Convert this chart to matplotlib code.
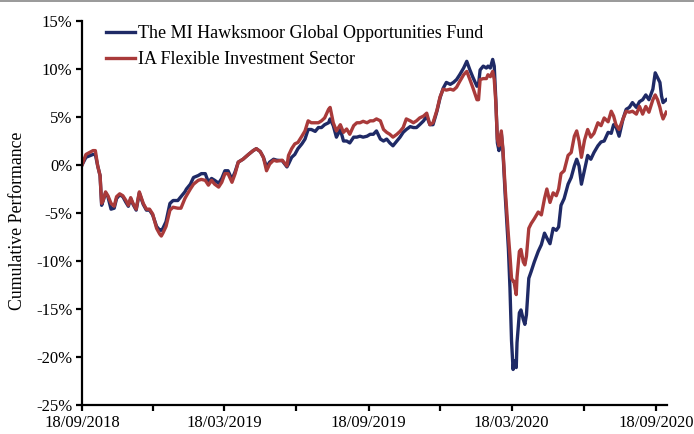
import matplotlib
matplotlib.use("Agg")
import matplotlib.pyplot as plt
import pandas as pd
from matplotlib.lines import Line2D
from matplotlib.ticker import FixedLocator, FuncFormatter

# ---- data (days since 18/09/2018, cumulative performance in %) ----
days = [0, 5, 14, 17, 20, 23, 25, 27, 30, 33,
        37, 41, 44, 48, 52, 56, 59, 62, 65, 69,
        73, 78, 82, 86, 90, 95, 99, 101, 103, 107,
        112, 116, 122, 126, 131, 133, 138, 142, 148, 152,
        157, 161, 165, 169, 174, 178, 182, 186, 191, 195,
        199, 205, 212, 218, 222, 227, 231, 235, 239, 244,
        248, 255, 261, 263, 267, 271, 275, 280, 284, 288,
        292, 297, 301, 305, 309, 314, 316, 320, 324, 329,
        333, 337, 341, 346, 350, 354, 358, 363, 367, 371,
        375, 380, 384, 388, 392, 396, 401, 405, 409, 413,
        418, 422, 426, 430, 435, 439, 443, 447, 452, 456,
        460, 464, 469, 473, 477, 481, 486, 490, 494, 498,
        503, 505, 507, 511, 515, 517, 520, 523, 525, 527,
        529, 531, 534, 536, 539, 543, 545, 547, 549, 550,
        553, 554, 557, 559, 562, 564, 566, 569, 572, 576,
        581, 585, 589, 592, 596, 600, 604, 607, 610, 614,
        619, 623, 627, 630, 633, 636, 640, 644, 648, 652,
        657, 661, 665, 670, 674, 677, 680, 684, 689, 693,
        697, 701, 706, 710, 714, 718, 722, 727, 730, 733,
        736, 738, 740, 744]

fund = [0.0, 0.8, 1.1, 1.1, -0.1, -1.1, -4.2, -3.7, -2.9, -3.3,
        -4.6, -4.5, -3.5, -3.1, -3.3, -3.9, -4.3, -3.5, -4.1, -4.7,
        -2.9, -4.1, -4.7, -4.7, -5.2, -6.4, -6.8, -6.8, -6.6, -5.9,
        -4.0, -3.7, -3.7, -3.3, -2.8, -2.5, -2.0, -1.3, -1.1, -0.9,
        -0.9, -1.8, -1.4, -1.6, -1.9, -1.4, -0.6, -0.6, -1.5, -0.7,
        0.3, 0.6, 1.1, 1.5, 1.7, 1.4, 0.8, -0.2, 0.3, 0.6,
        0.5, 0.45, -0.2, 0.1, 0.8, 1.1, 1.7, 2.2, 2.7, 3.7,
        3.7, 3.5, 3.9, 3.9, 4.2, 4.4, 4.8, 4.1, 2.9, 3.7,
        2.5, 2.5, 2.3, 2.9, 2.9, 3.0, 2.9, 3.0, 3.2, 3.2,
        3.55, 2.7, 2.5, 2.7, 2.3, 2.0, 2.5, 2.9, 3.4, 3.7,
        4.0, 3.9, 3.9, 4.2, 4.6, 5.1, 4.2, 4.2, 5.6, 7.0,
        8.0, 8.6, 8.4, 8.6, 8.9, 9.4, 10.1, 10.8, 9.9, 9.1,
        8.2, 8.4, 9.9, 10.3, 10.1, 10.3, 10.1, 11.0, 10.3, 6.8,
        2.3, 1.5, 3.3, 1.5, -3.2, -8.7, -12.8, -18.3, -21.3, -20.4,
        -21.1, -18.5, -15.4, -15.1, -16.1, -16.6, -15.6, -11.8, -11.1, -10.1,
        -9.0, -8.3, -7.1, -7.6, -8.2, -6.6, -6.8, -6.45, -4.2, -3.5,
        -2.0, -1.3, -0.1, 0.6, -0.1, -2.0, -0.5, 1.0, 0.6, 1.3,
        2.0, 2.4, 2.5, 3.4, 3.3, 4.2, 4.0, 3.0, 4.8, 5.8,
        6.0, 6.5, 6.0, 6.6, 6.8, 7.3, 6.8, 7.9, 9.6, 9.1,
        8.6, 7.2, 6.5, 6.8]

sector = [0.0, 1.1, 1.5, 1.5, -0.1, -1.1, -4.0, -3.7, -2.8, -3.2,
          -4.0, -4.3, -3.3, -3.0, -3.2, -3.7, -4.2, -3.4, -4.0, -4.6,
          -2.8, -4.0, -4.6, -4.6, -5.1, -6.6, -7.2, -7.4, -7.1, -6.4,
          -4.7, -4.4, -4.5, -4.5, -3.5, -3.2, -2.5, -2.0, -1.6, -1.5,
          -1.6, -2.1, -1.6, -2.0, -2.3, -1.8, -0.9, -0.9, -1.8, -0.9,
          0.3, 0.6, 1.1, 1.5, 1.7, 1.4, 0.8, -0.6, 0.1, 0.5,
          0.4, 0.5, -0.1, 1.0, 1.7, 2.2, 2.35, 3.0, 3.55, 4.6,
          4.4, 4.4, 4.4, 4.6, 4.9, 5.8, 6.0, 4.4, 3.55, 4.2,
          3.4, 3.75, 3.2, 4.1, 4.4, 4.4, 4.55, 4.4, 4.6, 4.6,
          4.8, 4.6, 3.7, 3.4, 3.2, 2.9, 3.2, 3.5, 3.9, 4.8,
          4.6, 4.4, 4.6, 4.9, 5.1, 5.4, 4.2, 4.4, 5.7, 7.1,
          7.9, 7.8, 7.9, 7.8, 8.1, 8.7, 9.4, 9.75, 8.9, 8.0,
          6.8, 6.8, 8.9, 9.0, 9.0, 9.4, 9.2, 9.75, 8.9, 6.5,
          2.7, 2.0, 3.55, 1.7, -2.5, -7.3, -9.4, -11.8, -12.1, -12.1,
          -13.5, -11.7, -9.0, -8.8, -10.1, -10.4, -9.5, -6.6, -6.1, -5.6,
          -4.9, -5.2, -3.5, -2.5, -3.9, -2.9, -3.2, -2.5, -0.9, -0.6,
          1.0, 1.3, 3.0, 3.55, 2.5, 0.8, 2.6, 3.7, 2.9, 3.3,
          4.4, 4.1, 4.9, 4.5, 5.6, 5.1, 4.2, 3.7, 4.8, 5.6,
          5.5, 5.6, 5.3, 6.1, 5.3, 6.1, 5.5, 6.8, 7.3, 6.8,
          6.0, 5.3, 4.8, 5.5]

series_names = ["The MI Hawksmoor Global Opportunities Fund",
                "IA Flexible Investment Sector"]
tick_dates = ["2018-09-18", "2018-12-18", "2019-03-18", "2019-06-18",
              "2019-09-18", "2019-12-18", "2020-03-18", "2020-06-18",
              "2020-09-18"]
tick_labels = ["18/09/2018", "", "18/03/2019", "", "18/09/2019", "",
               "18/03/2020", "", "18/09/2020"]
y_ticks = [-25, -20, -15, -10, -5, 0, 5, 10, 15]

# ---- styling ----
BLUE = "#1F2A66"
RED = "#A93A3A"
FONT = "Liberation Serif"
plt.rcParams["font.family"] = [FONT, "DejaVu Serif"]

start = pd.Timestamp("2018-09-18")
dates = start + pd.to_timedelta(days, unit="D")

fig = plt.figure(figsize=(6.94, 4.34), dpi=100)
ax = fig.add_axes([82 / 694, 1 - 405 / 434, 585 / 694, 384 / 434])

ax.plot(dates, fund, color=BLUE, lw=2.4, label=series_names[0],
        solid_joinstyle="round")
ax.plot(dates, sector, color=RED, lw=2.4, label=series_names[1],
        solid_joinstyle="round")

ax.set_ylim(-25, 15)
ax.set_xlim(start, start + pd.Timedelta(days=745))

ax.yaxis.set_major_locator(FixedLocator(y_ticks))
ax.yaxis.set_major_formatter(FuncFormatter(lambda v, p: f"{int(v)}%"))
tick_pos = [matplotlib.dates.date2num(pd.Timestamp(d)) for d in tick_dates]
ax.xaxis.set_major_locator(FixedLocator(tick_pos))
ax.set_xticklabels(tick_labels)

for s in ["top", "right"]:
    ax.spines[s].set_visible(False)
for s in ["left", "bottom"]:
    ax.spines[s].set_linewidth(1.6)
    ax.spines[s].set_color("black")
ax.tick_params(axis="both", direction="out", length=4, width=1.6,
               labelsize=12, colors="black", pad=3)

ax.set_ylabel("Cumulative Performance", fontsize=12.8)
ax.yaxis.set_label_coords(-0.095, 0.48)

leg = ax.legend(loc="upper left", bbox_to_anchor=(106 / 694, 1 - 25 / 434),
                bbox_transform=fig.transFigure, frameon=False, fontsize=13,
                handlelength=1.6, handletextpad=0.15, labelspacing=0.5,
                borderpad=0, borderaxespad=0)

fig.add_artist(Line2D([0, 1], [0.998, 0.998], color="#888888", lw=1.2,
                      transform=fig.transFigure))

fig.savefig("out.png", dpi=100)
